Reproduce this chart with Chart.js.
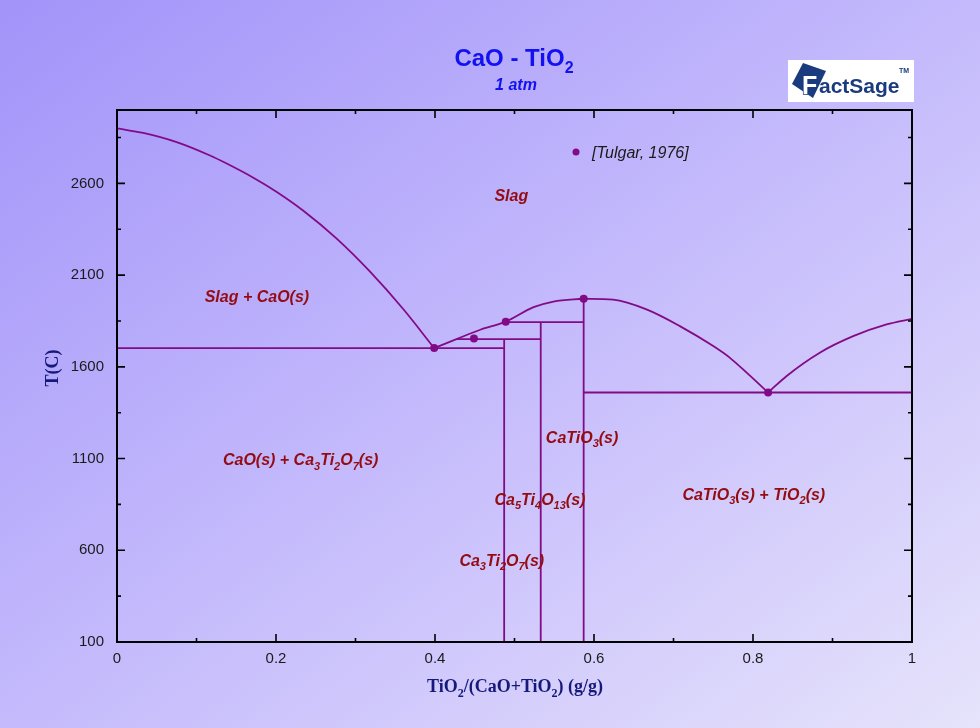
<!DOCTYPE html>
<html>
<head>
<meta charset="utf-8">
<script src="https://cdn.jsdelivr.net/npm/chart.js@4.4.0/dist/chart.umd.min.js"></script>
<style>
  html, body { margin: 0; padding: 0; }
  body { width: 980px; height: 728px; overflow: hidden;
         background: linear-gradient(to bottom right, #a293f9 0%, #c4bafc 50%, #e6e3fb 100%); }
</style>
</head>
<body>
<canvas id="phase" width="980" height="728"></canvas>
<script>
// ── Data (mass fraction TiO2, temperature in C) ──────────────────────────
const fracTicks  = [0, 0.2, 0.4, 0.6, 0.8, 1];
const fracMinor  = [0.1, 0.3, 0.5, 0.7, 0.9];
const tempTicks  = [100, 600, 1100, 1600, 2100, 2600];
const tempMinor  = [350, 850, 1350, 1850, 2350, 2850];

// liquidus branches
const liqCaoX   = [0, 0.033, 0.075, 0.117, 0.138, 0.171, 0.201, 0.234, 0.276, 0.318, 0.360, 0.399];
const liqCaoT   = [2900, 2875, 2825, 2752, 2708, 2632, 2553, 2452, 2300, 2120, 1915, 1702];
const liqMidX   = [0.399, 0.427, 0.457, 0.489, 0.524, 0.549, 0.587];
const liqMidT   = [1702, 1751, 1802, 1846, 1925, 1956, 1971];
const liqPerX   = [0.587, 0.624, 0.666, 0.708, 0.750, 0.771, 0.792, 0.819];
const liqPerT   = [1971, 1966, 1913, 1822, 1713, 1649, 1568, 1460];
const liqTio2X  = [0.819, 0.842, 0.884, 0.926, 0.968, 1.0];
const liqTio2T  = [1460, 1549, 1677, 1767, 1831, 1862];

// invariant (horizontal) lines
const invT    = [1702, 1751, 1844, 1460];
const invFrom = [0, 0.427, 0.489, 0.587];
const invTo   = [0.487, 0.533, 0.587, 1];

// stoichiometric compounds Ca3Ti2O7, Ca5Ti4O13, CaTiO3
const compX   = [0.487, 0.533, 0.587];
const compTop = [1751, 1844, 1971];

// experimental points [Tulgar, 1976]
const tulgarX = [0.399, 0.449, 0.489, 0.587, 0.819];
const tulgarT = [1702, 1754, 1846, 1971, 1460];

// ── Styling ───────────────────────────────────────────────────────────────
const LINE   = '#830a86';
const LABEL  = '#940c12';
const NAVY   = '#15197a';
const SANS   = '"Liberation Sans", Arial, sans-serif';
const SERIF  = '"Liberation Serif", "Times New Roman", serif';

const pts = (xs, ys) => xs.map((v, i) => ({ x: v, y: ys[i] }));
const lineSet = (data, smooth = false) => ({
  data, showLine: true, borderColor: LINE, borderWidth: 1.8, pointRadius: 0, fill: false,
  cubicInterpolationMode: smooth ? 'monotone' : 'default', tension: smooth ? 0.4 : 0
});

const datasets = [
  lineSet(pts(liqCaoX, liqCaoT), true),
  lineSet(pts(liqMidX, liqMidT), true),
  lineSet(pts(liqPerX, liqPerT), true),
  lineSet(pts(liqTio2X, liqTio2T), true),
  ...invT.map((t, i) => lineSet([{ x: invFrom[i], y: t }, { x: invTo[i], y: t }])),
  ...compX.map((c, i) => lineSet([{ x: c, y: 100 }, { x: c, y: compTop[i] }])),
  { data: pts(tulgarX, tulgarT), showLine: false, pointRadius: 4, pointBackgroundColor: LINE,
    pointBorderColor: LINE, pointBorderWidth: 0 }
];

// region labels (anchored in data coordinates)
const regionLabels = [
  { text: 'Slag',                    x: 0.496, t: 2535 },
  { text: 'Slag + CaO(s)',           x: 0.176, t: 1984 },
  { text: 'CaO(s) + Ca_3Ti_2O_7(s)', x: 0.231, t: 1095 },
  { text: 'CaTiO_3(s)',              x: 0.585, t: 1220 },
  { text: 'Ca_5Ti_4O_13(s)',         x: 0.532, t: 882 },
  { text: 'Ca_3Ti_2O_7(s)',          x: 0.484, t: 549 },
  { text: 'CaTiO_3(s) + TiO_2(s)',   x: 0.801, t: 909 }
];

// text with _N subscripts, centred on cx, baseline by
function richText(ctx, str, cx, by, size, style, family, color) {
  const parts = str.split(/(_\d+)/).filter(Boolean)
    .map(p => p[0] === '_' ? { t: p.slice(1), sub: true } : { t: p, sub: false });
  const subSize = Math.round(size * 0.66);
  let w = 0;
  for (const p of parts) {
    ctx.font = `${style} ${p.sub ? subSize : size}px ${family}`;
    p.w = ctx.measureText(p.t).width;
    w += p.w;
  }
  let xx = cx - w / 2;
  ctx.fillStyle = color; ctx.textAlign = 'left'; ctx.textBaseline = 'alphabetic';
  for (const p of parts) {
    ctx.font = `${style} ${p.sub ? subSize : size}px ${family}`;
    ctx.fillText(p.t, xx, by + (p.sub ? size * 0.28 : 0));
    xx += p.w;
  }
}

const decor = {
  id: 'decor',
  afterDraw(chart) {
    const { ctx, chartArea: a, scales: { x, y } } = chart;
    ctx.save();

    // frame
    ctx.strokeStyle = '#000'; ctx.lineWidth = 2;
    ctx.strokeRect(a.left, a.top, a.right - a.left, a.bottom - a.top);

    // inward ticks on all four sides
    ctx.lineWidth = 1.6;
    const xt = (v, len) => {
      const px = x.getPixelForValue(v);
      ctx.beginPath();
      ctx.moveTo(px, a.bottom); ctx.lineTo(px, a.bottom - len);
      ctx.moveTo(px, a.top);    ctx.lineTo(px, a.top + len);
      ctx.stroke();
    };
    const yt = (v, len) => {
      const py = y.getPixelForValue(v);
      ctx.beginPath();
      ctx.moveTo(a.left, py);  ctx.lineTo(a.left + len, py);
      ctx.moveTo(a.right, py); ctx.lineTo(a.right - len, py);
      ctx.stroke();
    };
    fracTicks.forEach(v => xt(v, 8));
    fracMinor.forEach(v => xt(v, 4));
    tempTicks.forEach(v => yt(v, 8));
    tempMinor.forEach(v => yt(v, 4));

    // region labels
    for (const r of regionLabels) {
      richText(ctx, r.text, x.getPixelForValue(r.x), y.getPixelForValue(r.t) + 6,
               16, 'italic bold', SANS, LABEL);
    }

    // legend
    ctx.fillStyle = LINE;
    ctx.beginPath(); ctx.arc(576, 152, 3.5, 0, Math.PI * 2); ctx.fill();
    ctx.fillStyle = '#1a1a1a'; ctx.font = `italic 16px ${SANS}`;
    ctx.textAlign = 'left'; ctx.textBaseline = 'alphabetic';
    ctx.fillText('[Tulgar, 1976]', 592, 158);

    // titles
    richText(ctx, 'CaO - TiO_2', 514, 66, 24, 'bold', SANS, '#1212f0');
    richText(ctx, '1 atm', 516, 90, 16, 'italic bold', SANS, '#1212f0');

    // axis titles
    richText(ctx, 'TiO_2/(CaO+TiO_2) (g/g)', 515, 692, 18, 'bold', SERIF, NAVY);
    ctx.save();
    ctx.translate(58, 368); ctx.rotate(-Math.PI / 2);
    richText(ctx, 'T(C)', 0, 0, 18, 'bold', SERIF, NAVY);
    ctx.restore();

    // FactSage logo
    ctx.fillStyle = '#fff';
    ctx.fillRect(788, 60, 126, 42);
    ctx.fillStyle = '#1a3b7e';
    ctx.beginPath();
    ctx.moveTo(803, 63); ctx.lineTo(826, 71); ctx.lineTo(813, 98); ctx.lineTo(792, 84);
    ctx.closePath(); ctx.fill();
    ctx.font = `bold 25px ${SANS}`;
    ctx.lineWidth = 1.5; ctx.strokeStyle = '#1a3b7e'; ctx.fillStyle = '#fff';
    ctx.strokeText('F', 802, 94);
    ctx.fillText('F', 802, 94);
    ctx.fillStyle = '#1a3b7e';
    ctx.font = `bold 21px ${SANS}`;
    ctx.fillText('actSage', 819, 93);
    ctx.font = `bold 7px ${SANS}`;
    ctx.fillText('TM', 899, 73);

    ctx.restore();
  }
};

new Chart(document.getElementById('phase'), {
  type: 'scatter',
  data: { datasets },
  plugins: [decor],
  options: {
    responsive: false, animation: false,
    layout: { padding: { top: 110, right: 68, left: 0, bottom: 0 } },
    plugins: { legend: { display: false }, tooltip: { enabled: false } },
    scales: {
      x: {
        type: 'linear', min: 0, max: 1,
        afterBuildTicks: s => { s.ticks = fracTicks.map(v => ({ value: v })); },
        afterFit: s => { s.height = 86; },
        ticks: { color: '#1a1a1a', font: { size: 15, family: SANS }, padding: 8,
                 callback: v => (v === 0 || v === 1) ? String(v) : v.toFixed(1) },
        grid: { display: false, drawTicks: false },
        border: { display: false }
      },
      y: {
        type: 'linear', min: 100, max: 3000,
        afterBuildTicks: s => { s.ticks = tempTicks.map(v => ({ value: v })); },
        afterFit: s => { s.width = 117; },
        ticks: { color: '#1a1a1a', font: { size: 15, family: SANS }, padding: 13,
                 callback: v => String(v) },
        grid: { display: false, drawTicks: false },
        border: { display: false }
      }
    }
  }
});
</script>
</body>
</html>
